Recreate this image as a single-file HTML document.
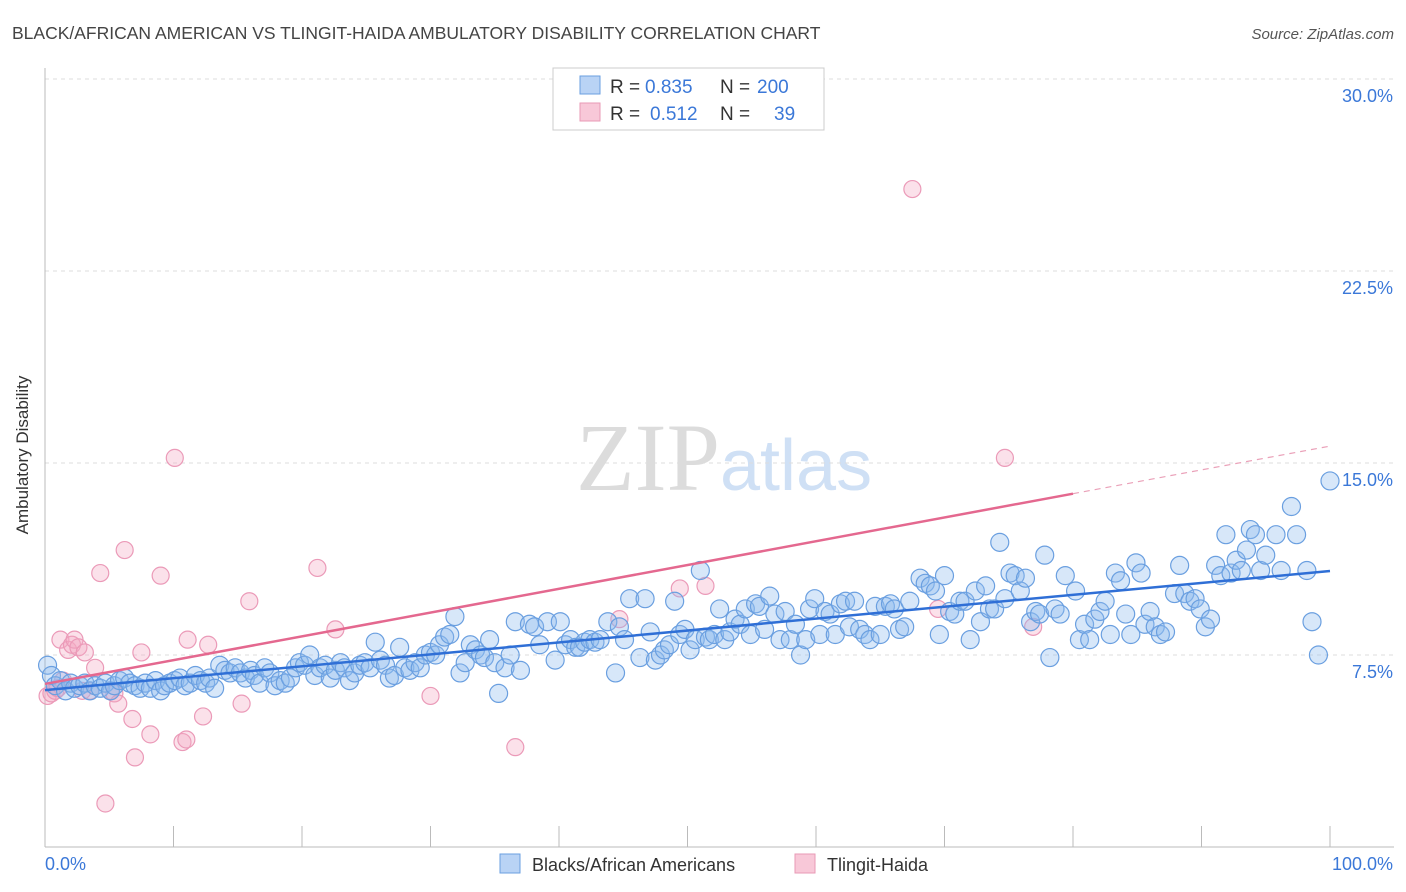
<!DOCTYPE html>
<html><head><meta charset="utf-8"><style>
body{margin:0;background:#fff;font-family:"Liberation Sans",sans-serif;}
svg{display:block}
</style></head><body>
<svg id="chart" width="1406" height="892" viewBox="0 0 1406 892">
<text x="12" y="39" font-size="17.5" fill="#444">BLACK/AFRICAN AMERICAN VS TLINGIT-HAIDA AMBULATORY DISABILITY CORRELATION CHART</text>
<text x="1394" y="39" font-size="15" fill="#555" font-style="italic" text-anchor="end">Source: ZipAtlas.com</text>
<text x="720" y="490" font-size="96" fill="#dcdcdc" text-anchor="end" font-family="Liberation Serif,serif">ZIP</text>
<text x="720" y="490" font-size="72" fill="#cfe0f5">atlas</text>
<g id="grid"></g>
<line x1="45" y1="68" x2="45" y2="847" stroke="#bbb"/>
<line x1="45" y1="847" x2="1394" y2="847" stroke="#bbb"/>
<g id="xticks"></g>
<text x="28" y="455" font-size="17" fill="#333" text-anchor="middle" transform="rotate(-90 28 455)">Ambulatory Disability</text>
<text x="45" y="870" font-size="18" fill="#3b78d8">0.0%</text>
<text x="1393" y="870" font-size="18" fill="#3b78d8" text-anchor="end">100.0%</text>
<g id="pinkpts"></g><g id="bluepts"></g><g id="lines"></g>
<g>
<rect x="553" y="68" width="271" height="62" fill="#fff" stroke="#ccc"/>
<rect x="580" y="76" width="20" height="18" fill="#b9d3f5" stroke="#6a9fe0"/>
<rect x="580" y="103" width="20" height="18" fill="#f8c8d8" stroke="#e89ab6"/>
<text x="610" y="93" font-size="19" fill="#333">R =</text>
<text x="645" y="93" font-size="19" fill="#3b78d8">0.835</text>
<text x="720" y="93" font-size="19" fill="#333">N =</text>
<text x="757" y="93" font-size="19" fill="#3b78d8">200</text>
<text x="610" y="120" font-size="19" fill="#333">R =</text>
<text x="650" y="120" font-size="19" fill="#3b78d8">0.512</text>
<text x="720" y="120" font-size="19" fill="#333">N =</text>
<text x="774" y="120" font-size="19" fill="#3b78d8">39</text>
</g>
<g>
<rect x="500" y="854" width="20" height="19" fill="#b9d3f5" stroke="#6a9fe0"/>
<text x="532" y="871" font-size="18" fill="#333">Blacks/African Americans</text>
<rect x="795" y="854" width="20" height="19" fill="#f8c8d8" stroke="#e89ab6"/>
<text x="827" y="871" font-size="18" fill="#333">Tlingit-Haida</text>
</g>
</svg>
<script>
const yTicks=[7.5,15,22.5,30];
const yTickLabels=["7.5%","15.0%","22.5%","30.0%"];
const xTicks=[0,10,20,30,40,50,60,70,80,90,100];
const blueX=[0.2,0.5,0.8,1.2,1.6,2,2.3,2.7,3.1,3.5,3.9,4.3,4.7,5.1,5.4,5.8,6.2,6.6,7,7.4,7.8,8.2,8.6,9,9.3,9.7,10.1,10.5,10.9,11.3,11.7,12.1,12.5,12.8,13.2,13.6,14,14.4,14.8,15.2,15.6,16,16.3,16.7,17.1,17.5,17.9,18.3,18.7,19.1,19.5,19.8,20.2,20.6,21,21.4,21.8,22.2,22.6,23,23.3,23.7,24.1,24.5,24.9,25.3,25.7,26.1,26.5,26.8,27.2,27.6,28,28.4,28.8,29.2,29.6,30,30.4,30.7,31.1,31.5,31.9,32.3,32.7,33.1,33.5,33.9,34.2,34.6,35,35.3,35.8,36.2,36.6,37,37.7,38.1,38.5,39.1,39.7,40.1,40.5,40.9,41.3,41.6,42,42.4,42.8,43.2,43.8,44.4,44.7,45.1,45.5,46.3,46.7,47.1,47.5,47.9,48.2,48.6,49,49.4,49.8,50.2,50.6,51,51.4,51.7,52.1,52.5,52.9,53.3,53.7,54.1,54.5,54.9,55.3,55.6,56,56.4,56.8,57.2,57.6,58,58.4,58.8,59.2,59.5,59.9,60.3,60.7,61.1,61.5,61.9,62.3,62.6,63,63.4,63.8,64.2,64.6,65,65.4,65.8,66.1,66.5,66.9,67.3,68.1,68.5,68.9,69.3,69.6,70,70.4,70.8,71.2,71.6,72,72.4,72.8,73.2,73.5,73.9,74.3,74.7,75.1,75.5,75.9,76.3,76.7,77.1,77.4,77.8,78.2,78.6,79,79.4,80.2,80.5,80.9,81.3,81.7,82.1,82.5,82.9,83.3,83.7,84.1,84.5,84.9,85.3,85.6,86,86.4,86.8,87.2,87.9,88.3,88.7,89.1,89.5,89.9,90.3,90.7,91.1,91.5,91.9,92.3,92.7,93.1,93.5,93.8,94.2,94.6,95,95.8,96.2,97,97.4,98.2,98.6,99.1,100];
const blueY=[7.1,6.7,6.3,6.5,6.1,6.4,6.2,6.3,6.4,6.1,6.3,6.2,6.4,6.1,6.3,6.5,6.6,6.4,6.3,6.2,6.4,6.2,6.5,6.1,6.3,6.4,6.5,6.6,6.3,6.4,6.7,6.5,6.4,6.6,6.2,7.1,6.9,6.8,7.0,6.8,6.6,6.9,6.7,6.4,7.0,6.8,6.3,6.5,6.4,6.6,7.0,7.2,7.1,7.5,6.7,7.0,7.1,6.6,6.9,7.2,7.0,6.5,6.8,7.1,7.2,7.0,8.0,7.3,7.1,6.6,6.7,7.8,7.0,6.9,7.2,7.0,7.5,7.6,7.5,7.9,8.2,8.3,9.0,6.8,7.2,7.9,7.7,7.5,7.4,8.1,7.2,6.0,7.0,7.5,8.8,6.9,8.7,8.6,7.9,8.8,7.3,8.8,7.9,8.1,7.8,7.8,8.0,8.1,8.0,8.1,8.8,6.8,8.6,8.1,9.7,7.4,9.7,8.4,7.3,7.5,7.7,7.9,9.6,8.3,8.5,7.7,8.1,10.8,8.2,8.1,8.3,9.3,8.1,8.4,8.9,8.7,9.3,8.3,9.5,9.4,8.5,9.8,9.1,8.1,9.2,8.1,8.7,7.5,8.1,9.3,9.7,8.3,9.2,9.1,8.3,9.5,9.6,8.6,9.6,8.5,8.3,8.1,9.4,8.3,9.4,9.5,9.3,8.5,8.6,9.6,10.5,10.3,10.2,10.0,8.3,10.6,9.2,9.1,9.6,9.6,8.1,10.0,8.8,10.2,9.3,9.3,11.9,9.7,10.7,10.6,10.0,10.5,8.8,9.2,9.1,11.4,7.4,9.3,9.1,10.6,10.0,8.1,8.7,8.1,8.9,9.2,9.6,8.3,10.7,10.4,9.1,8.3,11.1,10.7,8.7,9.2,8.6,8.3,8.4,9.9,11.0,9.9,9.6,9.7,9.3,8.6,8.9,11.0,10.6,12.2,10.7,11.2,10.8,11.6,12.4,12.2,10.8,11.4,12.2,10.8,13.3,12.2,10.8,8.8,7.5,14.3];
const pinkX=[0.2,0.5,0.8,1,1.2,1.4,1.8,2.1,2.3,2.6,2.9,3.1,3.5,3.9,4.3,4.7,5.1,5.4,5.7,6.2,6.8,7,7.5,8.2,9,10.1,10.7,11,11.1,12.3,12.7,15.3,15.9,21.2,22.6,30,36.6,44.7,49.4,51.4,67.5,69.5,74.7,76.9];
const pinkY=[5.9,6.0,6.1,6.2,8.1,6.5,7.7,7.9,8.1,7.8,6.1,7.6,6.1,7.0,10.7,1.7,6.1,6.0,5.6,11.6,5.0,3.5,7.6,4.4,10.6,15.2,4.1,4.2,8.1,5.1,7.9,5.6,9.6,10.9,8.5,5.9,3.9,8.9,10.1,10.2,25.7,9.3,15.2,8.6];
const blueTrend=[6.13,10.78];
const pinkTrend=[6.37,15.66];
const pinkSolidEnd=80;
const NS="http://www.w3.org/2000/svg";
function sx(v){return 45+v*12.85;}
function sy(v){return 847-v*25.6;}
function mk(t,a,p){const e=document.createElementNS(NS,t);for(const k in a)e.setAttribute(k,a[k]);p.appendChild(e);return e;}
const grid=document.getElementById('grid');
yTicks.forEach((t,i)=>{
 const l=mk('line',{x1:45,x2:1394,y1:sy(t),y2:sy(t),stroke:'#ddd','stroke-dasharray':'4 4'},grid);
 
 
 const tx=mk('text',{x:1393,y:sy(t)+23,'font-size':18,fill:'#3b78d8','text-anchor':'end'},grid);
 tx.textContent=yTickLabels[i];
 
 
});
const xt=document.getElementById('xticks');
xTicks.forEach(t=>{
 const l=mk('line',{x1:sx(t),x2:sx(t),y1:826,y2:847,stroke:'#bbb'},xt);
 
 
});
const pg=document.getElementById('pinkpts');
pinkX.forEach((x,i)=>{
 const c=mk('circle',{cx:sx(x),cy:sy(pinkY[i]),r:8.5,fill:'rgba(244,170,196,0.35)',stroke:'#eb9ab8','stroke-width':1.2},pg);
 
 
});
const bg=document.getElementById('bluepts');
blueX.forEach((x,i)=>{
 const c=mk('circle',{cx:sx(x),cy:sy(blueY[i]),r:9,fill:'rgba(140,185,238,0.35)',stroke:'#6a9fe0','stroke-width':1.2},bg);
 
 
});
const lg=document.getElementById('lines');
const pAt=v=>pinkTrend[0]+(pinkTrend[1]-pinkTrend[0])*v/100;
let l1=mk('line',{x1:sx(0),y1:sy(blueTrend[0]),x2:sx(100),y2:sy(blueTrend[1]),stroke:'#2f6fd6','stroke-width':2.5},lg);


let l2=mk('line',{x1:sx(0),y1:sy(pAt(0)),x2:sx(pinkSolidEnd),y2:sy(pAt(pinkSolidEnd)),stroke:'#e4688f','stroke-width':2.5},lg);


let l3=mk('line',{x1:sx(pinkSolidEnd),y1:sy(pAt(pinkSolidEnd)),x2:sx(100),y2:sy(pAt(100)),stroke:'#eaa0b8','stroke-width':1.2,'stroke-dasharray':'6 5'},lg);


</script>
</body></html>
